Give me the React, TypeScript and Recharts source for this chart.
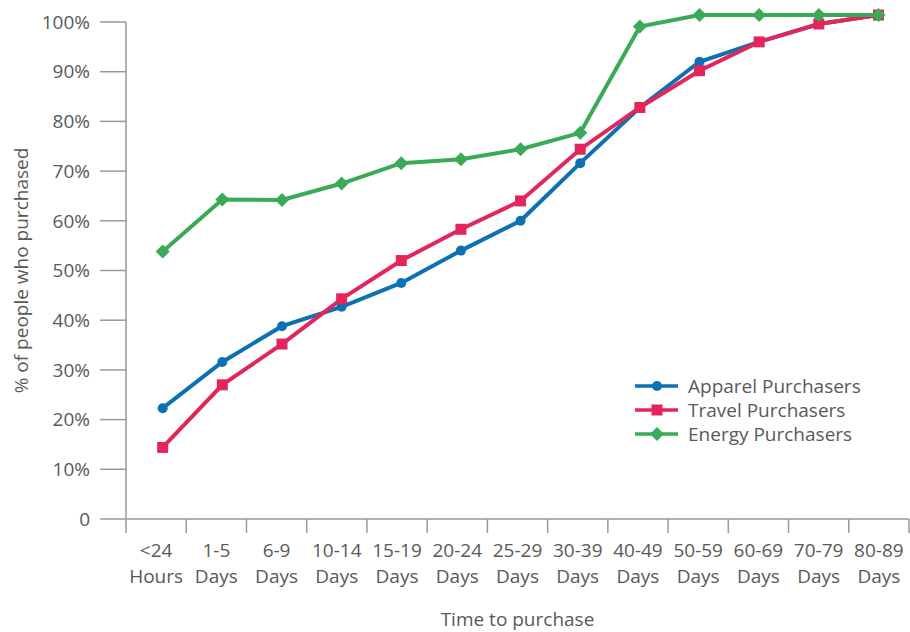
import React from 'react';
import { LineChart, Line, XAxis, YAxis, Legend } from 'recharts';

const rangeTop = ['<24', '1-5', '6-9', '10-14', '15-19', '20-24', '25-29', '30-39', '40-49', '50-59', '60-69', '70-79', '80-89'];
const rangeUnit = ['Hours', 'Days', 'Days', 'Days', 'Days', 'Days', 'Days', 'Days', 'Days', 'Days', 'Days', 'Days', 'Days'];
const apparel = [22.3, 31.6, 38.8, 42.7, 47.5, 54.0, 60.0, 71.6, 82.8, 92.0, 96.0, 99.6, 101.4];
const travel = [14.4, 27.0, 35.2, 44.3, 52.0, 58.3, 64.0, 74.4, 82.8, 90.2, 96.0, 99.6, 101.4];
const energy = [53.8, 64.3, 64.2, 67.5, 71.6, 72.4, 74.4, 77.7, 99.1, 101.4, 101.4, 101.4, 101.4];
const yTicks = [0, 10, 20, 30, 40, 50, 60, 70, 80, 90, 100];

const seriesKeys = ['apparel', 'travel', 'energy'] as const;
const seriesNames = { apparel: 'Apparel Purchasers', travel: 'Travel Purchasers', energy: 'Energy Purchasers' };
const COLORS = { apparel: '#0b71b3', travel: '#e2265a', energy: '#3aaa57' };
const TEXT = '#595959';
const AXIS = '#999999';
const FONT = '"Open Sans", sans-serif';
const FS = 19;

const data = rangeTop.map((r, i) => ({ i, apparel: apparel[i], travel: travel[i], energy: energy[i] }));

// x domain: band boundaries line up with axis ends, points slightly inset
const X_MIN = -0.615;
const X_MAX = 12.512;
const bandStep = (X_MAX - X_MIN) / rangeTop.length;
const boundaryTicks = [...rangeTop.map((_, k) => X_MIN + k * bandStep), X_MAX];
const LABEL_SHIFT = 30.1;

const XTick = (props: any) => {
  const { x, y, index } = props;
  if (index >= rangeTop.length) return null;
  const cx = x + LABEL_SHIFT;
  return (
    <g>
      <text x={cx} y={y + 24} textAnchor="middle" fill={TEXT} fontSize={FS} fontFamily={FONT}>{rangeTop[index]}</text>
      <text x={cx} y={y + 50} textAnchor="middle" fill={TEXT} fontSize={FS} fontFamily={FONT}>{rangeUnit[index]}</text>
    </g>
  );
};

const Marker = ({ kind, cx, cy, color }: any) => {
  if (cx == null || cy == null) return null;
  if (kind === 'apparel') return <circle cx={cx} cy={cy} r={5} fill={color} />;
  if (kind === 'travel') return <rect x={cx - 5.5} y={cy - 5.5} width={11} height={11} fill={color} />;
  return <polygon points={`${cx},${cy - 7} ${cx + 7},${cy} ${cx},${cy + 7} ${cx - 7},${cy}`} fill={color} />;
};

const renderLegend = (props: any) => {
  const payload = [...(props.payload || [])].sort(
    (a: any, b: any) => seriesKeys.indexOf(a.dataKey) - seriesKeys.indexOf(b.dataKey)
  );
  return (
    <div style={{ fontFamily: FONT, fontSize: FS, color: TEXT }}>
      {payload.map((p: any) => (
        <div key={p.dataKey} style={{ display: 'flex', alignItems: 'center', height: 24, lineHeight: '24px', whiteSpace: 'nowrap' }}>
          <svg width={45} height={24} style={{ display: 'block' }}>
            <line x1={0} y1={12} x2={43} y2={12} stroke={p.color} strokeWidth={3.5} />
            <Marker kind={p.dataKey} cx={22} cy={12} color={p.color} />
          </svg>
          <span style={{ marginLeft: 8 }}>{p.value}</span>
        </div>
      ))}
    </div>
  );
};

export default function App() {
  return (
    <div style={{ position: 'absolute', left: 0, top: 0, width: 910, height: 632, background: '#fff' }}>
      <style>{`.recharts-line, .recharts-line *, .recharts-line-dots, .recharts-surface g[clip-path] { clip-path: none !important; }`}</style>
      <LineChart width={910} height={632} data={data} margin={{ top: 22, right: 1, bottom: 0, left: 0 }}>
        <XAxis
          type="number"
          dataKey="i"
          domain={[X_MIN, X_MAX]}
          allowDataOverflow
          ticks={boundaryTicks}
          interval={0}
          tickSize={14}
          tickMargin={0}
          height={113}
          tick={<XTick />}
          axisLine={{ stroke: AXIS, strokeWidth: 1.5 }}
          tickLine={{ stroke: AXIS, strokeWidth: 1.5 }}
          label={{ value: 'Time to purchase', position: 'insideBottom', offset: 6, fill: TEXT, fontSize: FS, fontFamily: FONT }}
        />
        <YAxis
          type="number"
          domain={[0, 100]}
          allowDataOverflow
          ticks={yTicks}
          interval={0}
          width={126}
          tickSize={26}
          tickMargin={10}
          tickFormatter={(v: number) => (v === 0 ? '0' : `${v}%`)}
          tick={{ fill: TEXT, fontSize: FS, fontFamily: FONT }}
          axisLine={{ stroke: AXIS, strokeWidth: 1.5 }}
          tickLine={{ stroke: AXIS, strokeWidth: 1.5 }}
          label={{ value: '% of people who purchased', angle: -90, position: 'insideLeft', offset: 21, fill: TEXT, fontSize: FS, fontFamily: FONT, style: { textAnchor: 'middle' } }}
        />
        <Legend
          layout="vertical"
          align="center"
          verticalAlign="middle"
          content={renderLegend}
          wrapperStyle={{ left: 635, top: 374, width: 270, height: 72 }}
        />
        {seriesKeys.map((k) => (
          <Line
            key={k}
            type="linear"
            dataKey={k}
            name={seriesNames[k]}
            stroke={COLORS[k]}
            strokeWidth={4}
            isAnimationActive={false}
            dot={(p: any) => <Marker key={`${k}-${p.index}`} kind={k} cx={p.cx} cy={p.cy} color={COLORS[k]} />}
            activeDot={false}
          />
        ))}
      </LineChart>
    </div>
  );
}
